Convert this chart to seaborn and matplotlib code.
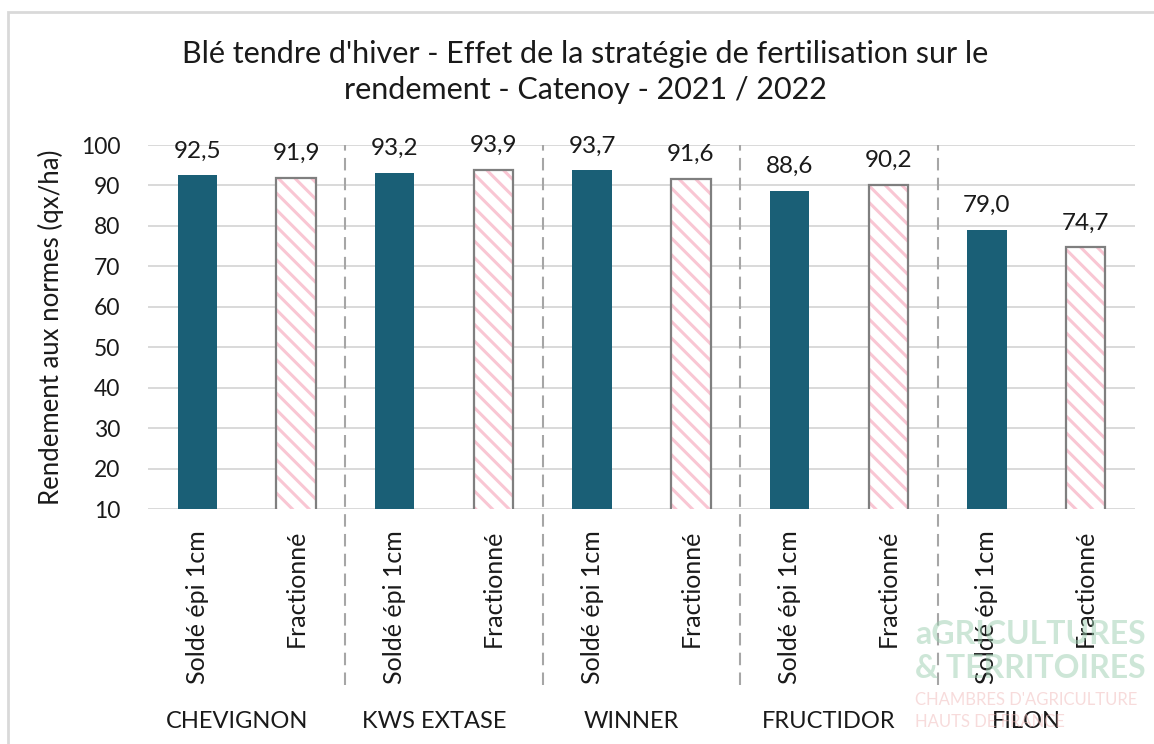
import pandas as pd
import numpy as np
import matplotlib.pyplot as plt
import seaborn as sns
from matplotlib.patches import Rectangle
import matplotlib.transforms as mtransforms

# données
varietes = ['CHEVIGNON', 'KWS EXTASE', 'WINNER', 'FRUCTIDOR', 'FILON']
strategies = ['Soldé épi 1cm', 'Fractionné']
rdt_solde = [92.5, 93.2, 93.7, 88.6, 79.0]
rdt_fractionne = [91.9, 93.9, 91.6, 90.2, 74.7]
yticks = [10, 20, 30, 40, 50, 60, 70, 80, 90, 100]

titre = "Blé tendre d'hiver - Effet de la stratégie de fertilisation sur le\nrendement - Catenoy - 2021 / 2022"

rows = []
for v, s, f in zip(varietes, rdt_solde, rdt_fractionne):
    rows.append({'cle': v + ' | ' + strategies[0], 'variete': v, 'strategie': strategies[0], 'rendement': s})
    rows.append({'cle': v + ' | ' + strategies[1], 'variete': v, 'strategie': strategies[1], 'rendement': f})
df = pd.DataFrame(rows)

sns.set_theme(style='white')
plt.rcParams['font.family'] = ['Lato', 'DejaVu Sans']
plt.rcParams['hatch.linewidth'] = 2.2

bleu = '#1A5F76'
rose = '#F9C6D3'
gris = '#7F7F7F'
noir = '#1a1a1a'

fig = plt.figure(figsize=(11.54, 7.44), dpi=100)
ax = fig.add_axes([148 / 1154, 1 - 509 / 744, 987 / 1154, 364 / 744])

sns.barplot(data=df, x='cle', y='rendement', hue='strategie', hue_order=strategies,
            palette={strategies[0]: bleu, strategies[1]: 'white'}, dodge=False,
            width=0.4, legend=False, ax=ax, zorder=2, linewidth=0, saturation=1)

# barres hachurées + contour gris
for bar in ax.containers[1]:
    bar.set_facecolor('white')
    bar.set_edgecolor(rose)
    bar.set_hatch('\\\\')
    bar.set_linewidth(0)
    ax.add_patch(Rectangle(bar.get_xy(), bar.get_width(), bar.get_height(),
                           facecolor='none', edgecolor=gris, lw=1.6, zorder=3))

for cont, vals in zip(ax.containers, [rdt_solde, rdt_fractionne]):
    ax.bar_label(cont, labels=[f'{v:.1f}'.replace('.', ',') for v in vals],
                 padding=10, fontsize=17.5, color=noir)

ax.set_ylim(10, 100)
ax.set_yticks(yticks)
ax.set_yticklabels([str(t) for t in yticks], fontsize=16.5, color=noir)
ax.yaxis.grid(True, color='#D9D9D9', lw=1.4)
ax.set_axisbelow(True)
for s in ax.spines.values():
    s.set_visible(False)
ax.tick_params(axis='y', length=0, pad=20)

ax.set_xlim(-0.5, 9.5)
ax.set_xticks(range(10))
ax.set_xticklabels(strategies * 5, rotation=90, fontsize=18, color=noir)
ax.tick_params(axis='x', length=0, pad=15)
ax.set_xlabel('')
ax.set_ylabel('Rendement aux normes (qx/ha)', fontsize=18.5, color=noir, labelpad=12)

# séparateurs entre variétés
for i in range(1, len(varietes)):
    ax.axvline(2 * i - 0.5, ymin=-0.484, ymax=1, clip_on=False, color='#A6A6A6',
               lw=1.5, ls=(0, (6, 3.5)), zorder=1)

trans = mtransforms.blended_transform_factory(ax.transData, ax.transAxes)
for i, v in enumerate(varietes):
    ax.text(2 * i + 0.4, -0.585, v, transform=trans, ha='center', va='center',
            fontsize=17, color=noir, zorder=5)

fig.text(585 / 1154, 1 - 72 / 744, titre, ha='center', va='center', fontsize=22,
         color=noir, linespacing=1.35)

# filigrane
wm = [('aGRICULTURES', 635, '#9CCFB0', 23), ('& TERRITOIRES', 668, '#9CCFB0', 23),
      ("CHAMBRES D'AGRICULTURE", 700, '#F0B9B9', 12), ('HAUTS DE FRANCE', 722, '#F0B9B9', 12)]
for txt, yy, c, fs in wm:
    fig.text(915 / 1154, 1 - yy / 744, txt, ha='left', va='center', fontsize=fs,
             color=c, alpha=0.5, zorder=0, fontweight='bold' if fs > 20 else 'normal')

fig.add_artist(Rectangle((8 / 1154, -0.1), 1.2, 1.1 - 12 / 744, transform=fig.transFigure,
                         facecolor='none', edgecolor='#D9D9D9', lw=2))

fig.savefig('out.png', dpi=100)
